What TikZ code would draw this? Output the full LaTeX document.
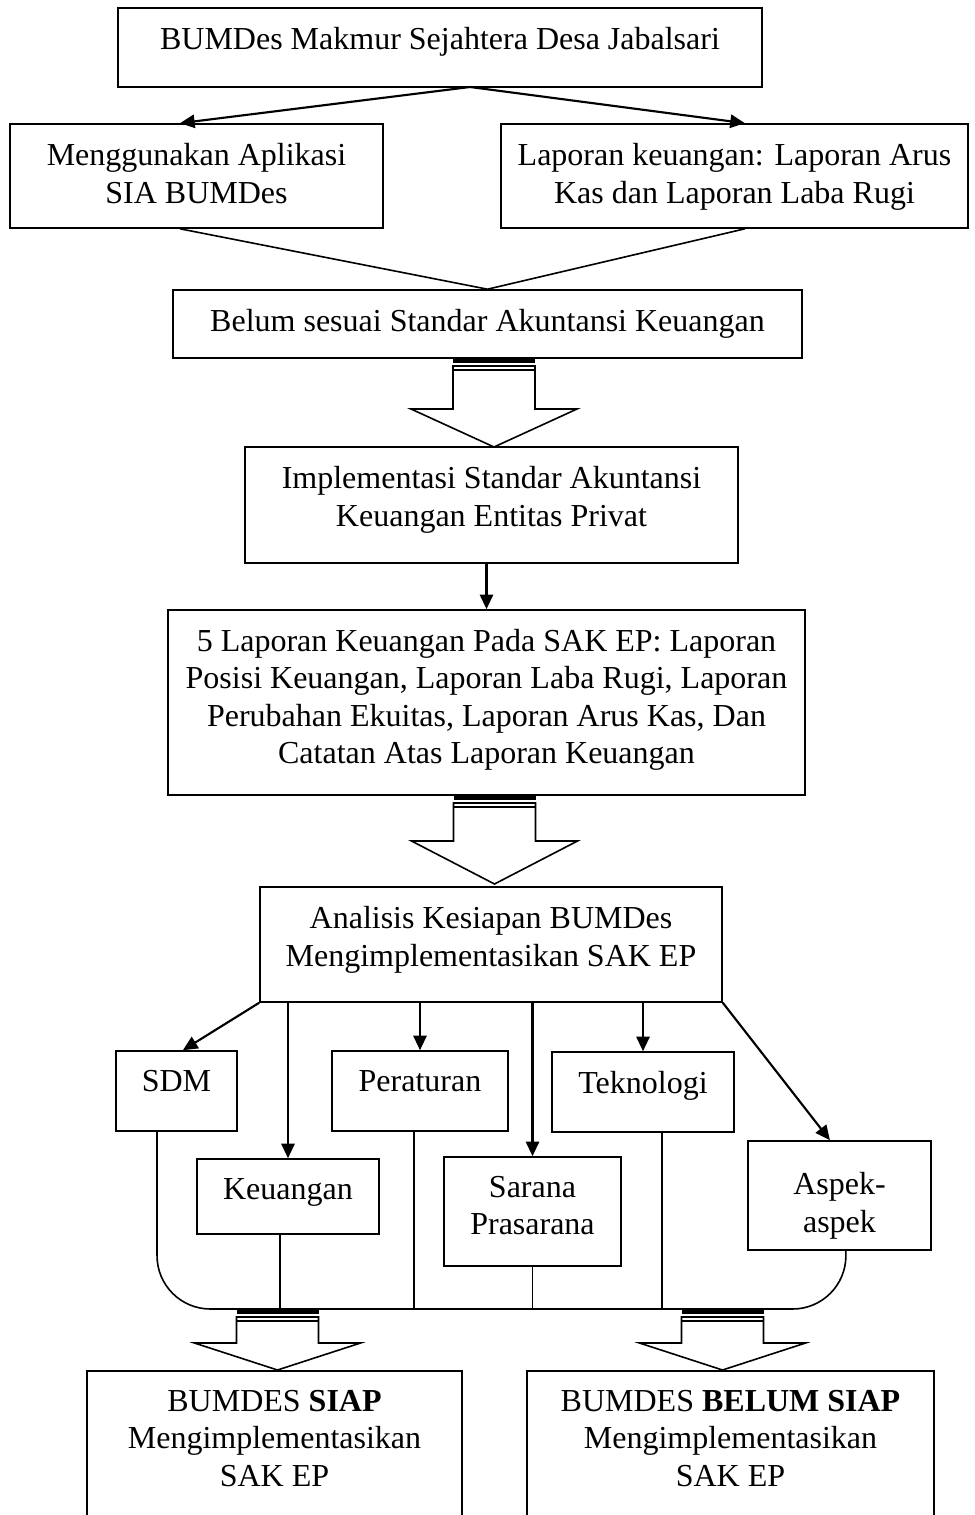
\documentclass[tikz,border=0pt]{standalone}
\usepackage{fontspec}
\setmainfont{Liberation Serif}
\usetikzlibrary{positioning, arrows.meta}

\begin{document}
\begin{tikzpicture}[
        x=0.375pt, y=-0.375pt,
        box/.style={rectangle, draw=black, line width=0.6pt, inner sep=0pt},
        txt/.style={anchor=north, align=center, inner sep=0pt, yshift=-7.4pt, font=\fontsize{12}{14}\selectfont},
        garis/.style={draw=black, line width=0.6pt},
        panah/.style={draw=black, line width=0.8pt, -{Triangle[length=5.5pt, width=5pt]}},
        pics/blok/.style n args={2}{code={
            \draw[black, line width=1.5pt] (-41,3) -- (41,3);
            \draw[garis] (-41,12) -- (41,12);
            \draw[garis] (-41,8) -- (41,8) -- (41,#1) -- (83,#1) -- (0,#2) -- (-83,#1) -- (-41,#1) -- cycle;
        }}
    ]
    \useasboundingbox (0,0) rectangle (974,1515);
    \clip (0,0) rectangle (974,1515);

    % BUMDES
    \node[box, minimum width=241.5pt, minimum height=29.6pt] (bumdes) at (440,47.5) {};
    \node[txt] at (bumdes.north) (bumdes-t) {BUMDes Makmur Sejahtera Desa Jabalsari};

    % KONDISI AWAL
    \node[box, minimum width=139.9pt, minimum height=39pt] (aplikasi) at (196.5,176) {};
    \node[txt] at (aplikasi.north) (aplikasi-t) {Menggunakan Aplikasi\\SIA BUMDes};
    \node[box, minimum width=175.1pt, minimum height=39pt] (laporan) at (734.5,176) {};
    \node[txt] at (laporan.north) (laporan-t) {Laporan keuangan: Laporan Arus\\Kas dan Laporan Laba Rugi};

    \coordinate (cabang) at (470,87);
    \draw[panah] (cabang) -- ([xshift=-6.2pt]aplikasi.north);
    \draw[panah] (cabang) -- ([xshift=3.9pt]laporan.north);

    % MASALAH
    \node[box, minimum width=235.9pt, minimum height=25.5pt] (belum) at (487.5,324) {};
    \node[txt] at (belum.north) (belum-t) {Belum sesuai Standar Akuntansi Keuangan};
    \draw[garis] ([xshift=-6.2pt]aplikasi.south) -- (belum.north);
    \draw[garis] ([xshift=3.9pt]laporan.south) -- (belum.north);

    \pic at (494,358) {blok={51}{89}};

    % IMPLEMENTASI SAK EP
    \node[box, minimum width=184.9pt, minimum height=43.5pt] (implementasi) at (491.5,505) {};
    \node[txt] at (implementasi.north) (implementasi-t) {Implementasi Standar Akuntansi\\Keuangan Entitas Privat};

    \node[box, minimum width=238.9pt, minimum height=69.4pt] (lima) at (486.5,702.5) {};
    \node[txt] at (lima.north) (lima-t) {5 Laporan Keuangan Pada SAK EP: Laporan\\Posisi Keuangan, Laporan Laba Rugi, Laporan\\Perubahan Ekuitas, Laporan Arus Kas, Dan\\Catatan Atas Laporan Keuangan};
    \draw[panah] (lima.north |- implementasi.south) -- (lima.north);

    \pic at (494.5,795) {blok={46}{89}};

    % ANALISIS KESIAPAN
    \node[box, minimum width=173.25pt, minimum height=43.1pt] (analisis) at (491,944.5) {};
    \node[txt] at (analisis.north) (analisis-t) {Analisis Kesiapan BUMDes\\Mengimplementasikan SAK EP};

    % ASPEK
    \node[box, minimum width=45.4pt, minimum height=30pt] (sdm) at (176.5,1091) {};
    \node[txt] at (sdm.north) (sdm-t) {SDM};
    \node[box, minimum width=66pt, minimum height=30pt] (peraturan) at (420,1091) {};
    \node[txt] at (peraturan.north) (peraturan-t) {Peraturan};
    \node[box, minimum width=68.25pt, minimum height=30pt] (teknologi) at (643,1092) {};
    \node[txt] at (teknologi.north) (teknologi-t) {Teknologi};
    \node[box, minimum width=68.25pt, minimum height=28.1pt] (keuangan) at (288,1196.5) {};
    \node[txt] at (keuangan.north) (keuangan-t) {Keuangan};
    \node[box, minimum width=66.4pt, minimum height=40.9pt] (sarana) at (532.5,1211.5) {};
    \node[txt] at (sarana.north) (sarana-t) {Sarana\\Prasarana};
    \node[box, minimum width=68.6pt, minimum height=40.9pt] (aspek) at (839.5,1195.5) {};
    \node[txt, yshift=-4.6pt] at (aspek.north) (aspek-t) {Aspek-\\aspek};

    \draw[panah] (analisis.south west) -- ([xshift=2.4pt]sdm.north);
    \draw[panah] (keuangan.north |- analisis.south) -- (keuangan.north);
    \draw[panah] (peraturan.north |- analisis.south) -- (peraturan.north);
    \draw[panah] (sarana.north |- analisis.south) -- (sarana.north);
    \draw[panah] (teknologi.north |- analisis.south) -- (teknologi.north);
    \draw[panah] (analisis.south east) -- ([xshift=-3.6pt]aspek.north);

    % Garis gabungan
    \coordinate (kiri) at (277.5,1309);
    \coordinate (kanan) at (722.5,1309);
    \draw[garis, rounded corners=20pt] ([xshift=-7.3pt]sdm.south) |- (kiri) -- (kanan) -| ([xshift=2.4pt]aspek.south);
    \coordinate (keu-b) at ([xshift=-3pt]keuangan.south);
    \coordinate (per-b) at ([xshift=-2.25pt]peraturan.south);
    \coordinate (tek-b) at ([xshift=7.1pt]teknologi.south);
    \draw[garis] (keu-b) -- (keu-b |- kiri);
    \draw[garis] (per-b) -- (per-b |- kiri);
    \draw[garis] (sarana.south) -- (sarana.south |- kiri);
    \draw[garis] (tek-b) -- (tek-b |- kiri);

    \pic at (kiri) {blok={34}{61}};
    \pic at (kanan) {blok={34}{61}};

    % HASIL
    \node[box, minimum width=140.6pt, minimum height=67.5pt, anchor=north] (siap) at (274.5,1370) {};
    \node[txt] at (siap.north) (siap-t) {BUMDES \textbf{SIAP}\\Mengimplementasikan\\SAK EP};
    \node[box, minimum width=152.6pt, minimum height=67.5pt, anchor=north] (belumsiap) at (730.5,1370) {};
    \node[txt] at (belumsiap.north) (belumsiap-t) {BUMDES \textbf{BELUM SIAP}\\Mengimplementasikan\\SAK EP};
\end{tikzpicture}
\end{document}
